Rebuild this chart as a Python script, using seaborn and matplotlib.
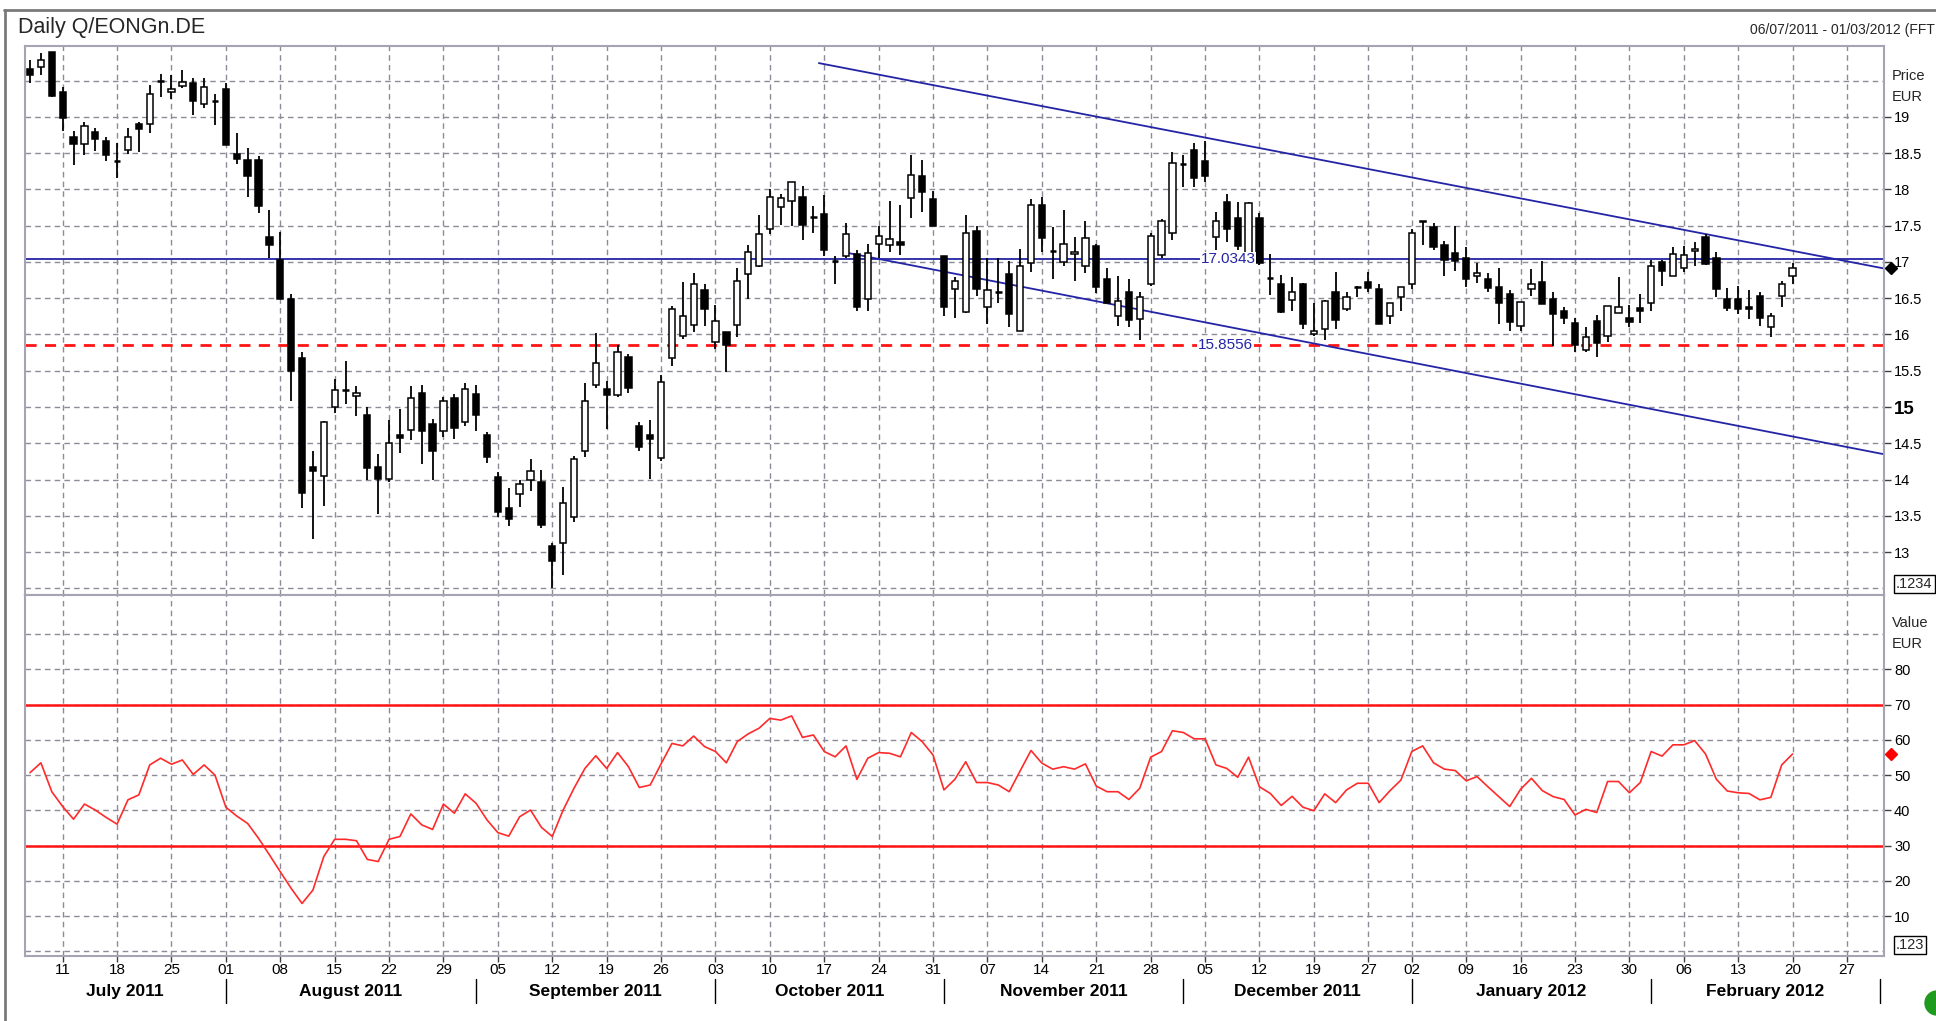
import numpy as np
import pandas as pd
import matplotlib
matplotlib.use("Agg")
import matplotlib.pyplot as plt
import seaborn as sns
from matplotlib.lines import Line2D
from matplotlib.patches import Ellipse
from matplotlib.transforms import blended_transform_factory

sns.set_theme(style="white")
plt.rcParams['font.family'] = ['Liberation Sans', 'DejaVu Sans']

# ---------------- data ----------------
start_date = "2011-07-06"
end_axis_date = "2012-03-02"
holidays = ["2011-12-26"]

opens = [19.66, 19.68, 19.89, 19.34, 18.72, 18.62, 18.79, 18.66, 18.40, 18.54,
         18.90, 18.90, 19.50, 19.34, 19.43, 19.47, 19.18, 19.22, 19.38, 18.49,
         18.40, 18.40, 17.35, 17.02, 16.49, 15.68, 14.17, 14.05, 15.00, 15.23,
         15.15, 14.89, 14.18, 14.01, 14.62, 14.69, 15.19, 14.76, 14.67, 15.12,
         14.79, 15.18, 14.62, 14.03, 13.61, 13.80, 13.99, 13.97, 13.09, 13.13,
         13.49, 14.39, 15.30, 15.25, 15.17, 15.69, 14.74, 14.62, 14.30, 15.68,
         15.98, 16.13, 16.61, 15.89, 16.03, 16.13, 16.84, 16.95, 17.46, 17.76,
         17.84, 17.90, 17.62, 17.66, 17.01, 17.08, 17.11, 16.49, 17.25, 17.23,
         17.27, 17.88, 18.19, 17.87, 17.08, 16.63, 16.31, 17.43, 16.38, 16.58,
         16.84, 16.05, 16.98, 17.79, 17.15, 17.00, 17.11, 16.95, 17.22, 16.76,
         16.25, 16.58, 16.21, 16.70, 17.09, 17.40, 18.35, 18.54, 18.39, 17.35,
         17.82, 17.60, 17.01, 17.61, 16.78, 16.70, 16.47, 16.69, 16.00, 16.08,
         16.59, 16.35, 16.66, 16.72, 16.62, 16.25, 16.51, 16.70, 17.57, 17.48,
         17.23, 17.12, 17.05, 16.80, 16.76, 16.66, 16.56, 16.12, 16.63, 16.72,
         16.49, 16.32, 16.16, 15.79, 16.18, 15.98, 16.30, 16.23, 16.36, 16.43,
         17.00, 16.80, 16.92, 17.15, 17.35, 17.06, 16.49, 16.49, 16.38, 16.53,
         16.10, 16.53, 16.80]
highs = [19.78, 19.88, 19.89, 19.41, 18.81, 18.93, 18.84, 18.72, 18.64, 18.85,
         18.93, 19.44, 19.59, 19.57, 19.65, 19.54, 19.54, 19.32, 19.47, 18.77,
         18.57, 18.46, 17.71, 17.41, 16.56, 15.76, 14.39, 14.81, 15.39, 15.63,
         15.29, 15.00, 14.35, 14.82, 14.97, 15.29, 15.30, 14.84, 15.14, 15.18,
         15.33, 15.30, 14.66, 14.11, 13.89, 14.00, 14.28, 14.13, 13.12, 13.90,
         14.33, 15.33, 16.02, 15.36, 15.85, 15.73, 14.80, 14.82, 15.44, 16.39,
         16.72, 16.85, 16.70, 16.41, 16.03, 16.91, 17.23, 17.64, 18.00, 17.94,
         18.10, 18.05, 17.77, 17.92, 17.08, 17.53, 17.16, 17.25, 17.49, 17.84,
         17.79, 18.47, 18.40, 17.98, 17.08, 16.79, 17.65, 17.49, 17.05, 17.05,
         17.01, 17.18, 17.87, 17.89, 17.48, 17.71, 17.35, 17.56, 17.25, 16.92,
         16.80, 16.76, 16.59, 17.40, 17.59, 18.52, 18.47, 18.64, 18.67, 17.69,
         17.93, 17.82, 17.82, 17.67, 17.11, 16.82, 16.79, 16.71, 16.44, 16.48,
         16.86, 16.59, 16.67, 16.86, 16.70, 16.43, 16.66, 17.45, 17.57, 17.54,
         17.29, 17.50, 17.20, 16.98, 16.85, 16.92, 16.61, 16.45, 16.90, 17.01,
         16.58, 16.38, 16.23, 16.10, 16.27, 16.39, 16.79, 16.41, 16.56, 17.02,
         17.02, 17.20, 17.22, 17.28, 17.38, 17.13, 16.64, 16.67, 16.61, 16.58,
         16.30, 16.74, 16.98]
lows = [19.47, 19.57, 19.27, 18.80, 18.33, 18.48, 18.53, 18.39, 18.16, 18.49,
        18.51, 18.78, 19.27, 19.25, 19.39, 19.02, 19.12, 18.88, 18.61, 18.35,
        17.90, 17.67, 17.06, 16.49, 15.08, 13.61, 13.18, 13.63, 14.92, 15.04,
        14.87, 13.99, 13.53, 13.97, 14.36, 14.55, 14.22, 14.00, 14.59, 14.56,
        14.74, 14.67, 14.23, 13.49, 13.36, 13.62, 13.84, 13.33, 12.51, 12.68,
        13.42, 14.31, 15.26, 14.70, 15.14, 15.20, 14.39, 14.01, 14.26, 15.56,
        15.94, 16.04, 16.12, 15.80, 15.48, 15.97, 16.49, 16.93, 17.38, 17.51,
        17.49, 17.30, 17.40, 17.08, 16.69, 17.05, 16.33, 16.33, 17.05, 17.13,
        17.10, 17.61, 17.69, 17.50, 16.25, 16.23, 16.30, 16.53, 16.15, 16.44,
        16.10, 16.05, 16.86, 17.13, 16.77, 16.94, 16.74, 16.85, 16.57, 16.43,
        16.12, 16.10, 15.93, 16.67, 17.06, 17.30, 18.03, 18.03, 18.10, 17.16,
        17.28, 17.17, 17.01, 16.96, 16.54, 16.30, 16.33, 16.08, 15.98, 15.93,
        16.08, 16.32, 16.51, 16.59, 16.15, 16.15, 16.32, 16.62, 17.24, 17.16,
        16.80, 16.87, 16.66, 16.71, 16.59, 16.15, 16.05, 16.05, 16.53, 16.42,
        15.84, 16.15, 15.76, 15.76, 15.69, 15.90, 16.30, 16.10, 16.16, 16.32,
        16.67, 16.80, 16.86, 16.94, 16.96, 16.51, 16.32, 16.28, 16.21, 16.12,
        15.97, 16.38, 16.69]
closes = [19.58, 19.78, 19.29, 18.98, 18.62, 18.87, 18.69, 18.48, 18.39, 18.72,
          18.83, 19.32, 19.50, 19.38, 19.48, 19.22, 19.41, 19.22, 18.61, 18.42,
          18.19, 17.77, 17.24, 16.49, 15.49, 13.81, 14.12, 14.79, 15.24, 15.23,
          15.20, 14.16, 14.01, 14.50, 14.58, 15.13, 14.67, 14.40, 15.09, 14.71,
          15.25, 14.89, 14.31, 13.56, 13.46, 13.94, 14.12, 13.37, 12.88, 13.68,
          14.28, 15.09, 15.61, 15.17, 15.76, 15.26, 14.45, 14.56, 15.34, 16.35,
          16.25, 16.70, 16.35, 16.18, 15.85, 16.74, 17.13, 17.38, 17.89, 17.88,
          18.10, 17.51, 17.62, 17.17, 17.01, 17.39, 16.38, 17.12, 17.36, 17.31,
          17.23, 18.20, 17.97, 17.50, 16.38, 16.74, 17.40, 16.63, 16.61, 16.58,
          16.28, 16.95, 17.79, 17.33, 17.15, 17.25, 17.14, 17.33, 16.65, 16.43,
          16.46, 16.20, 16.51, 17.36, 17.57, 18.36, 18.35, 18.16, 18.18, 17.56,
          17.45, 17.22, 17.81, 16.98, 16.78, 16.31, 16.59, 16.15, 16.05, 16.46,
          16.20, 16.51, 16.66, 16.64, 16.15, 16.43, 16.66, 17.40, 17.55, 17.20,
          17.03, 17.01, 16.77, 16.85, 16.64, 16.43, 16.17, 16.45, 16.70, 16.42,
          16.28, 16.23, 15.85, 15.97, 15.88, 16.39, 16.38, 16.17, 16.32, 16.94,
          16.87, 17.11, 17.10, 17.18, 16.97, 16.62, 16.36, 16.35, 16.35, 16.23,
          16.26, 16.70, 16.91]
rsi = [50.7, 53.5, 45.3, 41.1, 37.5, 41.8, 40.1, 38.0, 36.1, 43.0,
       44.4, 52.9, 54.8, 53.1, 54.3, 50.2, 52.9, 50.0, 40.9, 38.4,
       36.3, 32.1, 27.4, 22.6, 17.9, 13.6, 17.4, 26.9, 31.8, 31.8,
       31.4, 26.1, 25.5, 31.8, 32.6, 39.0, 35.9, 34.6, 41.8, 39.2,
       44.7, 42.0, 37.3, 33.7, 32.7, 38.2, 40.1, 35.2, 32.6, 40.1,
       46.3, 51.9, 55.5, 51.9, 56.4, 52.4, 46.5, 47.2, 53.2, 59.0,
       58.3, 61.1, 58.1, 56.7, 53.5, 59.5, 61.7, 63.3, 66.1, 65.6,
       66.8, 60.7, 61.4, 56.7, 55.2, 58.3, 48.8, 54.8, 56.4, 56.2,
       55.2, 62.1, 59.5, 55.7, 45.8, 48.8, 53.8, 47.9, 47.9, 47.2,
       45.3, 51.2, 57.0, 53.4, 51.7, 52.4, 51.7, 53.2, 46.9, 45.3,
       45.3, 43.1, 46.3, 55.1, 56.7, 62.6, 62.1, 60.3, 60.3, 52.9,
       51.9, 49.4, 55.1, 46.7, 44.8, 41.4, 44.0, 40.9, 39.9, 44.7,
       42.2, 45.8, 47.7, 47.7, 42.2, 45.6, 48.6, 56.7, 58.3, 53.5,
       51.7, 51.3, 48.4, 49.6, 46.7, 43.9, 41.1, 46.0, 49.1, 45.6,
       43.9, 43.1, 38.7, 40.3, 39.4, 48.2, 48.2, 45.0, 47.9, 56.7,
       55.4, 58.6, 58.6, 59.8, 56.0, 48.8, 45.5, 45.0, 44.8, 43.0,
       43.7, 52.9, 56.0]

resistance_level = 17.0343
support_level = 15.8556
upper_trend = [(72.5, 19.74), (170.4, 16.91)]
lower_trend = [(75.3, 17.12), (170.4, 14.35)]
rsi_levels = [70, 30]

price_ticks = [13, 13.5, 14, 14.5, 15, 15.5, 16, 16.5, 17, 17.5, 18, 18.5, 19]
price_tick_labels = ["13", "13.5", "14", "14.5", "15", "15.5", "16", "16.5",
                     "17", "17.5", "18", "18.5", "19"]
rsi_ticks = [10, 20, 30, 40, 50, 60, 70, 80]
rsi_tick_labels = ["10", "20", "30", "40", "50", "60", "70", "80"]
month_names = ["July 2011", "August 2011", "September 2011", "October 2011",
               "November 2011", "December 2011", "January 2012", "February 2012"]
title_text = "Daily Q/EONGn.DE"
range_text = "06/07/2011 - 01/03/2012 (FFT"

# ---------------- calendar (trading days) ----------------
cal = pd.bdate_range(start_date, end_axis_date)
cal = cal[~cal.isin(pd.to_datetime(holidays))]
n = len(opens)
x = np.arange(n)

week_idx = [i for i in range(1, len(cal))
            if cal[i].weekday() < cal[i - 1].weekday() and i <= 167]
week_labels = [cal[i].strftime("%d") for i in week_idx]
month_idx = [i for i in range(1, len(cal)) if cal[i].month != cal[i - 1].month]

# ---------------- layout (pixels) ----------------
W, H = 1936, 1021
L, R = 24.7, 1884.3
T1, B1 = 46.4, 595.0
B2 = 956.0
fig = plt.figure(figsize=(W / 100, H / 100), dpi=100)
fig.patch.set_facecolor("white")
ax = fig.add_axes([L / W, 1 - B1 / H, (R - L) / W, (B1 - T1) / H])
ax2 = fig.add_axes([L / W, 1 - B2 / H, (R - L) / W, (B2 - B1) / H], sharex=ax)

xmin, xmax = -0.49, 170.43
grid_kw = dict(color="#8c8c98", lw=1.0, ls=(0, (4, 3)), zorder=1)
spine_col = "#a4a4b4"

for a in (ax, ax2):
    a.set_facecolor("white")
    for s in a.spines.values():
        s.set_color(spine_col)
        s.set_linewidth(1.5)
    for xi in week_idx:
        a.axvline(xi, **grid_kw)
    a.yaxis.tick_right()
    a.tick_params(axis="y", direction="out", length=5, width=1, color="#404040",
                  pad=2, labelsize=10.5, labelcolor="black", right=True, left=False)
    a.tick_params(axis="x", direction="out", length=4, width=1, color="#404040",
                  bottom=True, labelbottom=False)
    a.set_xticks(week_idx)
    a.set_xlim(xmin, xmax)
    a.set_xlabel("")
    a.set_ylabel("")

# ---------------- price panel ----------------
for gy in np.arange(12.5, 19.51, 0.5):
    ax.axhline(gy, **grid_kw)
ax.set_ylim(12.41, 19.97)
ax.set_yticks(price_ticks)
ax.set_yticklabels(price_tick_labels)
for lab in ax.get_yticklabels():
    if lab.get_text() == "15":
        lab.set_fontweight("bold")
        lab.set_fontsize(13.5)
ax.tick_params(axis="x", length=0)

o = np.array(opens); h = np.array(highs); lo = np.array(lows); c = np.array(closes)
ax.vlines(x, lo, h, color="black", lw=1.3, zorder=3)
body_b = np.minimum(o, c)
body_h = np.abs(c - o)
doji = body_h < 0.015
up = (c >= o) & ~doji
dn = (c < o) & ~doji
bw = 0.58
ax.bar(x[up], body_h[up], bottom=body_b[up], width=bw, facecolor="white",
       edgecolor="black", lw=1.1, zorder=4)
ax.bar(x[dn], body_h[dn], bottom=body_b[dn], width=bw, facecolor="black",
       edgecolor="black", lw=1.1, zorder=4)
ax.hlines(c[doji], x[doji] - bw / 2, x[doji] + bw / 2, color="black", lw=1.8, zorder=4)

blue = "#2424a6"
ax.axhline(resistance_level, color=blue, lw=1.3, zorder=2)
ax.axhline(support_level, color="#ff1414", lw=2.0, ls=(0, (4, 3)), zorder=2)
ax.plot([p[0] for p in upper_trend], [p[1] for p in upper_trend], color=blue, lw=1.3, zorder=2)
ax.plot([p[0] for p in lower_trend], [p[1] for p in lower_trend], color=blue, lw=1.3, zorder=2)
ax.text(110.1, resistance_level, f"{resistance_level:.4f}", color=blue, fontsize=11,
        ha="center", va="center", zorder=5,
        bbox=dict(facecolor="white", edgecolor="none", pad=0.5))
ax.text(109.9, support_level, f"{support_level:.4f}", color=blue, fontsize=11,
        ha="center", va="center", zorder=5,
        bbox=dict(facecolor="white", edgecolor="none", pad=0.5))
ax.plot([171.0], [closes[-1]], marker="D", color="black", ms=6.5, clip_on=False, zorder=6)

# ---------------- RSI panel ----------------
for gy in np.arange(0, 91, 10):
    ax2.axhline(gy, **grid_kw)
rsi_df = pd.DataFrame({"idx": x, "rsi": rsi})
sns.lineplot(data=rsi_df, x="idx", y="rsi", ax=ax2, color="#ff2a2a", lw=1.2, zorder=3)
for lv in rsi_levels:
    ax2.axhline(lv, color="#ff1414", lw=1.8, zorder=2)
ax2.set_ylim(-1.3, 101.1)
ax2.set_yticks(rsi_ticks)
ax2.set_yticklabels(rsi_tick_labels)
ax2.set_xlabel("")
ax2.set_ylabel("")
ax2.plot([171.0], [rsi[-1]], marker="D", color="#ff0000", ms=6.5, clip_on=False, zorder=6)

# ---------------- x labels (days and months) ----------------
trans = blended_transform_factory(ax2.transData, fig.transFigure)
for xi, lab in zip(week_idx, week_labels):
    ax2.text(xi, 1 - 970 / H, lab, transform=trans, ha="center", va="center",
             fontsize=11, color="black", clip_on=False)
bounds = [xmin] + month_idx
for k, name in enumerate(month_names):
    cx = (bounds[k] + bounds[k + 1]) / 2
    ax2.text(cx, 1 - 991 / H, name, transform=trans, ha="center", va="center",
             fontsize=12.5, fontweight="bold", color="black", clip_on=False)
for mi in month_idx:
    fig.add_artist(Line2D([mi, mi], [1 - 979 / H, 1 - 1003 / H], transform=trans,
                          color="black", lw=1.0))

# ---------------- headers and side labels ----------------
fig.text(18.5 / W, 1 - 27 / H, title_text, fontsize=15.5, ha="left", va="center")
fig.text(1935 / W, 1 - 30 / H, range_text, fontsize=10, ha="right", va="center")
fig.text(1892 / W, 1 - 75.5 / H, "Price", fontsize=10.5, ha="left", va="center")
fig.text(1892 / W, 1 - 97 / H, "EUR", fontsize=10.5, ha="left", va="center")
fig.text(1892 / W, 1 - 623 / H, "Value", fontsize=10.5, ha="left", va="center")
fig.text(1892 / W, 1 - 644 / H, "EUR", fontsize=10.5, ha="left", va="center")
fig.text(1896 / W, 1 - 584 / H, ".1234", fontsize=10.5, ha="left", va="center",
         bbox=dict(facecolor="white", edgecolor="black", lw=1, pad=1.5))
fig.text(1896 / W, 1 - 945 / H, ".123", fontsize=10.5, ha="left", va="center",
         bbox=dict(facecolor="white", edgecolor="black", lw=1, pad=1.5))

# outer frame (left and top edges visible)
fig.add_artist(Line2D([4.5 / W, 4.5 / W], [1 - 10 / H, 0], transform=fig.transFigure,
                      color="#7a7a7a", lw=2))
fig.add_artist(Line2D([4 / W, 1], [1 - 10.5 / H, 1 - 10.5 / H], transform=fig.transFigure,
                      color="#7a7a7a", lw=2))
fig.add_artist(Ellipse((1937 / W, 1 - 1003 / H), 24 / W, 24 / H, transform=fig.transFigure,
                       color="#1e9a1e", clip_on=False))

fig.savefig("out.png", dpi=100)
